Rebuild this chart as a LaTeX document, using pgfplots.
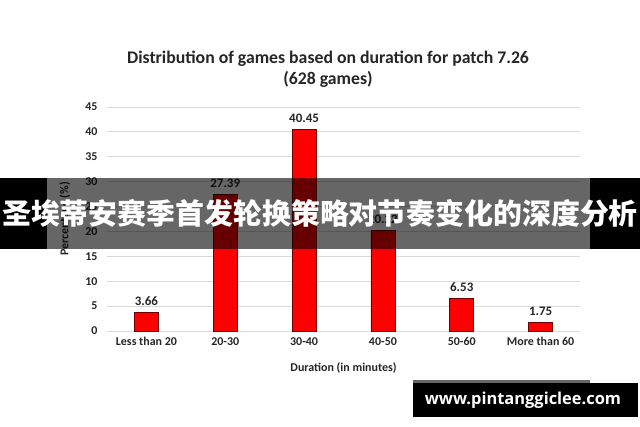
\documentclass[border=0pt]{standalone}
\usepackage{fontspec}
\setmainfont{Carlito}
\newfontfamily\cjk{Noto Sans CJK SC}
\newfontfamily\wm{Open Sans}
\usepackage{pgfplots}
\pgfplotsset{compat=1.18}
\definecolor{txt}{RGB}{38,38,38}
\definecolor{barred}{RGB}{255,0,0}
\definecolor{baredge}{RGB}{110,0,0}
\begin{document}
\begin{tikzpicture}[x=1bp,y=1bp]
\useasboundingbox (0,0) rectangle (640,426);
\path[fill=white] (0,0) rectangle (640,426);
\begin{axis}[
  at={(107bp,95bp)}, anchor=south west,
  scale only axis, width=473bp, height=224bp,
  xmin=-0.5, xmax=5.5, ymin=0, ymax=45,
  ytick={0,5,...,45}, xtick={0,...,5},
  xticklabels={Less than 20,20-30,30-40,40-50,50-60,More than 60},
  axis line style={draw=none},
  major tick length=0pt,
  ymajorgrids, grid style={draw={rgb,255:red,217;green,217;blue,217}, line width=1bp},
  /pgf/number format/assume math mode=true,
  tick label style={font=\bfseries\fontsize{12}{14}\selectfont, text=txt},
  yticklabel style={xshift=-6bp},
  xticklabel style={yshift=-3bp},
  ylabel={Percentage (\%)},
  xlabel={Duration (in minutes)},
  every axis y label/.style={at={(rel axis cs:0,0.5)}, xshift=-42bp, rotate=90, anchor=center, font=\bfseries\fontsize{12}{14}\selectfont, text=txt},
  every axis x label/.style={at={(rel axis cs:0.5,0)}, yshift=-37bp, anchor=center, font=\bfseries\fontsize{12}{14}\selectfont, text=txt},
  nodes near coords,
  nodes near coords style={yshift=3bp, font=\bfseries\fontsize{13}{15}\selectfont, text=txt, /pgf/number format/.cd, fixed, fixed zerofill, precision=2, assume math mode=true},
  clip=false,
]
\addplot[ybar, bar width=24bp, fill=barred, draw=baredge, line width=0.8bp]
  coordinates {(0,3.66) (1,27.39) (2,40.45) (3,20.22) (4,6.53) (5,1.75)};
\end{axis}
\node[font=\bfseries\fontsize{17.8}{21}\selectfont, text=txt, align=center] at (328,357) {Distribution of games based on duration for patch 7.26\\(628 games)};
% banner
\fill[black] (0,177) rectangle (47,248);
\fill[black, opacity=0.6] (47,177) rectangle (590,248);
\fill[black] (590,177) rectangle (640,248);
\node[text=white, inner sep=0pt, font=\cjk\bfseries\fontsize{29}{34}\selectfont] at (320,212.5) {圣埃蒂安赛季首发轮换策略对节奏变化的深度分析};
% watermark
\fill[black, opacity=0.6] (413,43) rectangle (590,46);
\fill[black] (413,9) rectangle (638,43);
\node[text=white, font=\wm\bfseries\fontsize{16.5}{19}\selectfont] at (523,26) {www.pintanggiclee.com};
\end{tikzpicture}
\end{document}
